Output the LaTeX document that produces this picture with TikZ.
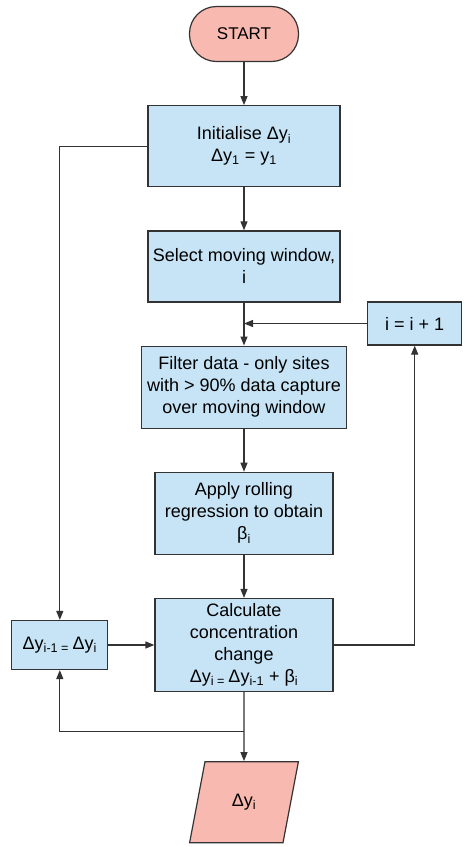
\documentclass[tikz,border=0pt]{standalone}
\usepackage{fontspec}
\setmainfont{Liberation Sans}
\usetikzlibrary{positioning, shapes.geometric, arrows.meta}
\definecolor{boxblue}{HTML}{C6E4F6}
\definecolor{termpink}{HTML}{F8B9B0}
\definecolor{linegray}{HTML}{333333}

\begin{document}
\begin{tikzpicture}[
        x=1pt, y=-1pt,
        node distance=43pt and 46pt,
        font=\fontsize{18}{22}\selectfont,
        box/.style={rectangle, draw=linegray, line width=1.2pt, fill=boxblue, minimum width=178pt, minimum height=82pt, align=center, inner sep=2pt},
        term/.style={rectangle, draw=linegray, line width=1.2pt, fill=termpink, rounded corners=27pt, minimum width=109pt, minimum height=55pt},
        io/.style={trapezium, trapezium left angle=75, trapezium right angle=105, trapezium stretches=true, draw=linegray, line width=1.2pt, fill=termpink, minimum width=109pt, minimum height=81pt},
        arrow/.style={-{Triangle[length=9pt, width=7pt]}, line width=1.2pt, draw=linegray}
        ]
        \useasboundingbox (0,0) rectangle (469,847);

        \node[term, font=\fontsize{17}{20}\selectfont] (start) at (244,34) {START};
        \node[box, below=of start, minimum width=192pt, minimum height=81pt] (init) {Initialise Δy\textsubscript{i}\\Δy\textsubscript{1} = y\textsubscript{1}};
        \node[box, below=of init, minimum width=192pt, minimum height=71pt] (select) {Select moving window,\\i};
        \node[box, below=of select, minimum width=205pt] (filter) {Filter data - only sites\\with > 90\% data capture\\over moving window};
        \node[box, below=of filter] (apply) {Apply rolling\\regression to obtain\\β\textsubscript{i}};
        \node[box, below=of apply, minimum height=93pt] (calc) {Calculate\\concentration\\change\\Δy\textsubscript{i = }Δy\textsubscript{i-1} + β\textsubscript{i}};
        \node[box, left=of calc, minimum width=96pt, minimum height=49pt] (shift) {Δy\textsubscript{i-1 = }Δy\textsubscript{i}};
        \node[box, anchor=west, minimum width=94pt, minimum height=43pt] (incr) at ([xshift=20pt, yshift=22pt]filter.north east) {i = i + 1};
        \node[io, below=69pt of calc] (out) {Δy\textsubscript{i}};

        \coordinate (join) at (select.south |- incr.west);
        \coordinate[below=39pt of calc.south] (split);

        \draw[arrow] (start) -- (init);
        \draw[arrow] (init) -- (select);
        \draw[arrow] (select) -- (filter);
        \draw[arrow] (incr) -- (join);
        \draw[arrow] (filter) -- (apply);
        \draw[arrow] (apply) -- (calc);
        \draw[arrow] (calc.east) -| (incr.south);
        \draw[arrow] (init.west) -| (shift.north);
        \draw[arrow] (shift) -- (calc);
        \draw[arrow] (calc) -- (out);
        \draw[arrow] (split) -| (shift.south);
    \end{tikzpicture}
\end{document}
